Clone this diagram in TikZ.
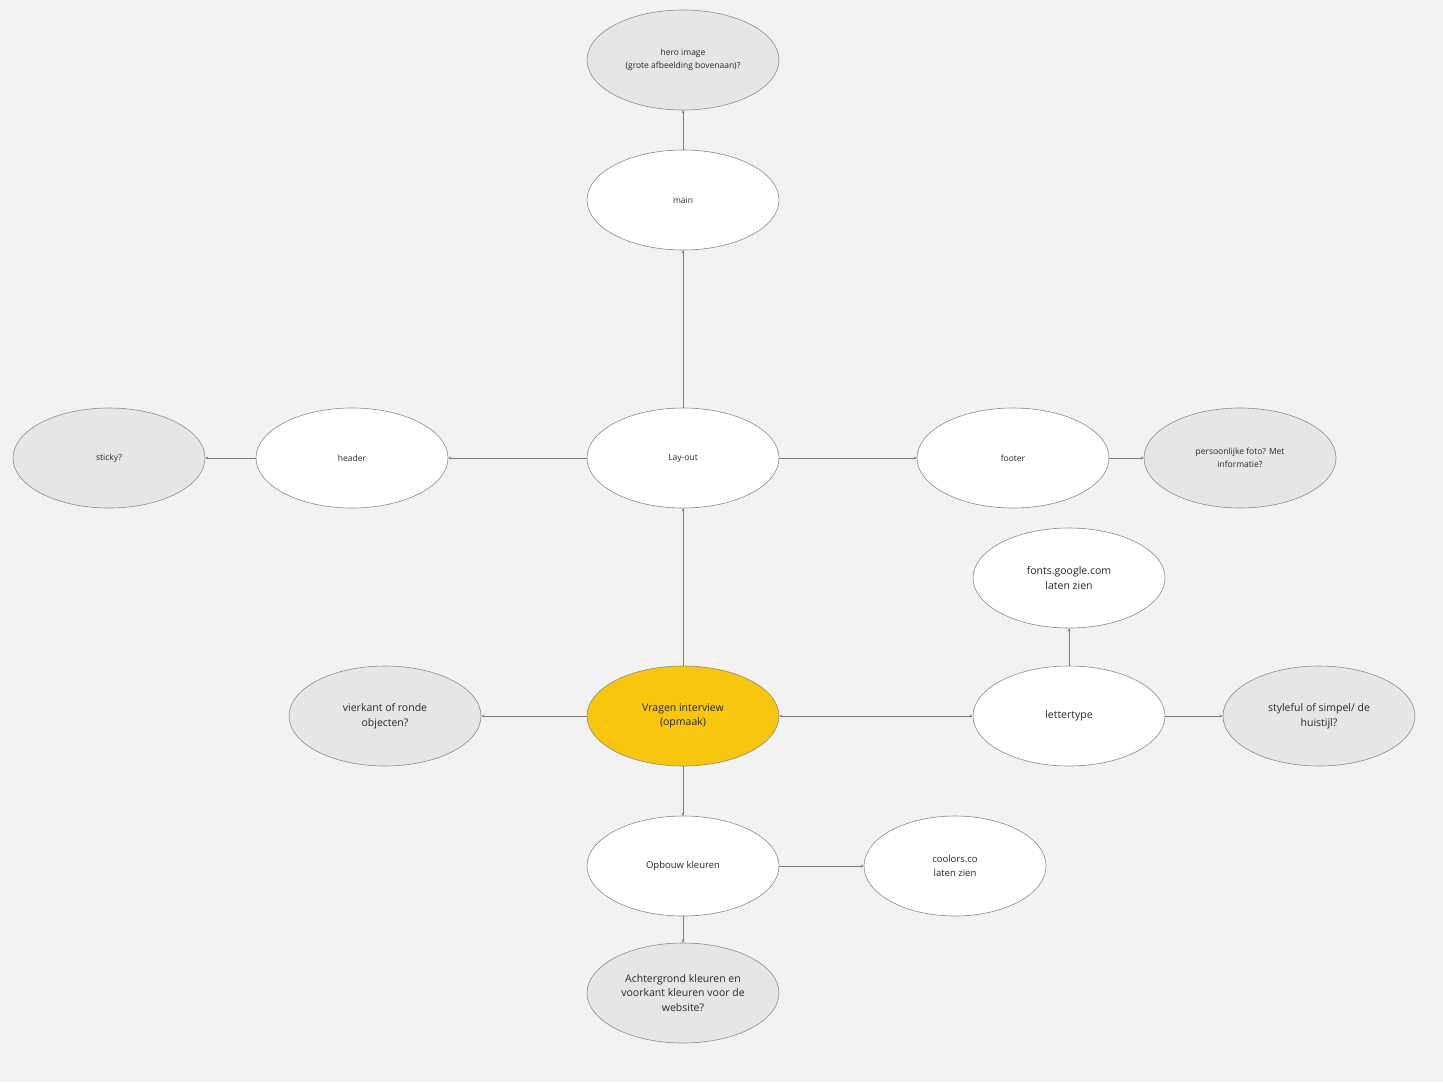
\documentclass[tikz,border=0pt]{standalone}
\usepackage{fontspec}
\setmainfont{Open Sans}
\usetikzlibrary{shapes.geometric,arrows.meta}
\definecolor{canvas}{HTML}{F2F2F2}
\definecolor{qfill}{HTML}{E6E6E6}
\definecolor{hub}{HTML}{F8C60F}
\definecolor{rim}{HTML}{8A8A8A}
\begin{document}
\begin{tikzpicture}[x=1pt,y=-1pt,
  bubble/.style={ellipse, draw=rim, line width=0.6pt, minimum width=192pt, minimum height=100pt,
    inner sep=0pt, align=center, font=\fontsize{8.5}{13}\selectfont, text=black!85},
  topic/.style={bubble, fill=white},
  question/.style={bubble, fill=qfill},
  bigtxt/.style={font=\fontsize{10.5}{14.5}\selectfont},
  link/.style={draw=rim!90!black, line width=0.6pt, -{Stealth[length=3pt,width=3pt]}},
  twoway/.style={link, {Stealth[length=3pt,width=3pt]}-{Stealth[length=3pt,width=3pt]}}]
\fill[canvas] (0,0) rectangle (1443,1082);
\useasboundingbox (0,0) rectangle (1443,1082);

% nodes
\node[question] (hero)   at (683,60)  {hero image\\(grote afbeelding bovenaan)?};
\node[topic]    (main)   at (683,200) {main};
\node[topic]    (layout) at (683,458) {Lay-out};
\node[topic]    (header) at (352,458) {header};
\node[question] (sticky) at (109,458) {sticky?};
\node[topic]    (footer) at (1013,458) {footer};
\node[question] (foto)   at (1240,458) {persoonlijke foto? Met\\informatie?};
\node[topic, bigtxt]    (fonts)  at (1069,578) {fonts.google.com\\laten zien};
\node[topic, bigtxt]    (letter) at (1069,716) {lettertype};
\node[question, bigtxt] (style)  at (1319,716) {styleful of simpel/ de\\huistijl?};
\node[bubble, fill=hub, bigtxt] (vragen) at (683,716) {Vragen interview\\(opmaak)};
\node[question, bigtxt] (vorm)   at (385,716) {vierkant of ronde\\objecten?};
\node[topic, font=\fontsize{9.5}{14}\selectfont] (kleur) at (683,866) {Opbouw kleuren};
\node[topic, minimum width=182pt, font=\fontsize{9.5}{14}\selectfont] (coolors) at (955,866) {coolors.co\\laten zien};
\node[question, bigtxt] (achter) at (683,993) {Achtergrond kleuren en\\voorkant kleuren voor de\\website?};

% connectors
\draw[link] (vragen) -- (layout);
\draw[link] (layout) -- (main);
\draw[link] (main) -- (hero);
\draw[link] (layout) -- (header);
\draw[link] (header) -- (sticky);
\draw[link] (layout) -- (footer);
\draw[link] (footer) -- (foto);
\draw[link] (vragen) -- (vorm);
\draw[twoway] (vragen) -- (letter);
\draw[link] (letter) -- (fonts);
\draw[link] (letter) -- (style);
\draw[link] (vragen) -- (kleur);
\draw[link] (kleur) -- (coolors);
\draw[link] (kleur) -- (achter);
\end{tikzpicture}
\end{document}
